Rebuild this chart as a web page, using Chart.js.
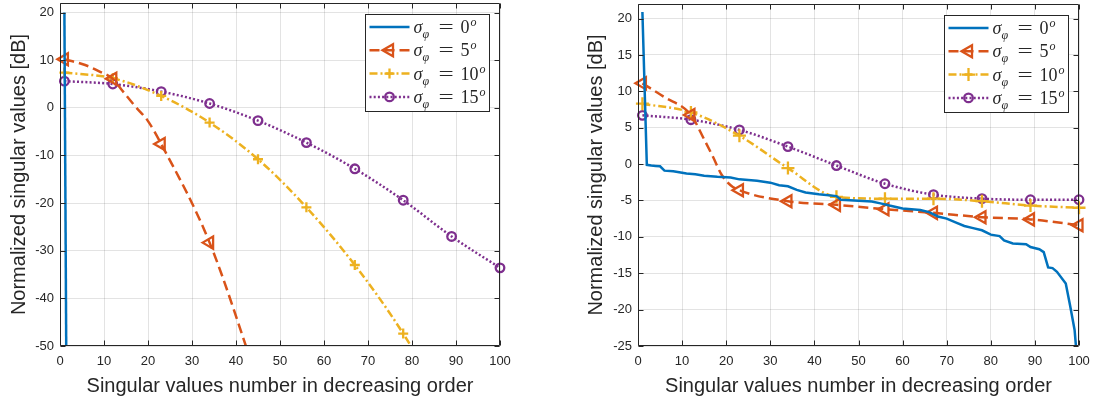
<!DOCTYPE html>
<html>
<head>
<meta charset="utf-8">
<script src="https://cdn.jsdelivr.net/npm/chart.js"></script>
<style>
  html, body { margin: 0; padding: 0; background: #fff; }
  #wrap { position: relative; width: 1097px; height: 403px; }
  .panel { position: absolute; top: 0; }
  #left { left: 0; }
  #right { left: 548px; }
</style>
</head>
<body>
<div id="wrap">
  <div class="panel" id="left"><canvas id="chartLeft" width="548" height="403"></canvas></div>
  <div class="panel" id="right"><canvas id="chartRight" width="549" height="403"></canvas></div>
</div>
<script>
// axis ticks / labels
const xTicks = [0, 10, 20, 30, 40, 50, 60, 70, 80, 90, 100];
const leftYTicks = [-50, -40, -30, -20, -10, 0, 10, 20];
const rightYTicks = [-25, -20, -15, -10, -5, 0, 5, 10, 15, 20];
const markerIdx = [1, 12, 23, 34, 45, 56, 67, 78, 89, 100];
const sigmaLabels = ['0', '5', '10', '15'];
const xTitle = 'Singular values number in decreasing order';
const yTitle = 'Normalized singular values [dB]';

// left panel
const leftBlueIdx = [1, 2];
const leftBlueVal = [20, -150];
const leftRedIdx = [1, 5, 7, 9, 12, 14, 17, 20, 23, 34, 45];
const leftRedVal = [10.2, 9.2, 8.5, 7.6, 6.1, 3.8, 0.4, -2.8, -7.6, -28.3, -57.5];
const leftYellowIdx = [1, 12, 23, 34, 45, 56, 67, 78, 89];
const leftYellowVal = [7.4, 6.2, 2.5, -3.1, -10.8, -20.9, -33.0, -47.4, -65];
const leftPurpleIdx = [1, 12, 23, 34, 45, 56, 67, 78, 89, 100];
const leftPurpleVal = [5.6, 5.0, 3.4, 0.9, -2.7, -7.3, -12.8, -19.4, -27.0, -33.6];

// right panel
const rightBlueIdx = [1, 2, 3, 4, 5, 6, 8, 11, 13, 15, 18, 21, 23, 25, 27, 30, 32, 34, 36, 38,
  41, 45, 46, 50, 53, 55, 57, 60, 62, 64, 66, 68, 70, 72, 74, 76, 78, 80, 82, 83,
  85, 88, 89, 91, 92, 93, 94, 95, 97, 98, 99, 100];
const rightBlueVal = [20.9, -0.1, -0.2, -0.25, -0.3, -0.9, -1.0, -1.3, -1.4, -1.6, -1.75, -1.85, -2.1, -2.2, -2.3, -2.55, -2.9, -3.05, -3.55, -3.9,
  -4.15, -4.4, -4.9, -5.05, -5.15, -5.4, -5.7, -6.1, -6.2, -6.3, -6.6, -7.2, -7.5, -8.0, -8.5, -8.8, -9.1, -9.7, -9.9, -10.5,
  -10.9, -11.0, -11.4, -11.7, -12.1, -14.2, -14.3, -14.8, -16.4, -19.5, -22.8, -30];
const rightRedIdx = [1, 6, 12, 15, 17, 19, 21, 23, 34, 45, 56, 67, 78, 89, 100];
const rightRedVal = [11.1, 9.2, 6.75, 3.4, 1.0, -1.5, -2.9, -3.6, -5.1, -5.6, -6.2, -6.7, -7.3, -7.6, -8.4];
const rightYellowIdx = [1, 12, 23, 34, 45, 56, 67, 78, 89, 100];
const rightYellowVal = [8.3, 7.1, 3.9, -0.55, -4.5, -4.75, -4.75, -5.1, -5.7, -6.0];
const rightPurpleIdx = [1, 12, 23, 34, 45, 56, 67, 78, 89, 100];
const rightPurpleVal = [6.7, 6.1, 4.7, 2.4, -0.2, -2.7, -4.2, -4.75, -4.9, -4.9];

const colors = ['#0072BD', '#D95319', '#EDB120', '#7E2F8E'];
const dashes = [[], [10, 5], [8, 3, 2, 3], [2, 2.2]];
const pointStyles = [false, 'triangle', 'cross', 'circle'];
const textColor = '#262626';
const gridColor = 'rgba(38,38,38,0.13)';
const sans = '"Liberation Sans", Arial, sans-serif';
const serif = '"Liberation Serif", "DejaVu Serif", serif';

function markerRadius(r) {
    return function (ctx) {
        return (ctx.raw && markerIdx.includes(ctx.raw.x)) ? r : 0;
    };
}

function series(idx, vals, k, r) {
    return {
        label: sigmaLabels[k],
        data: idx.map((x, i) => ({x: x, y: vals[i]})),
        borderColor: colors[k],
        backgroundColor: colors[k],
        borderWidth: 2.5,
        borderDash: dashes[k],
        cubicInterpolationMode: k === 0 ? 'default' : 'monotone',
        tension: 0,
        capBezierPoints: false,
        pointStyle: pointStyles[k],
        pointRotation: k === 1 ? -90 : 0,
        pointRadius: k === 0 ? 0 : markerRadius(r),
        pointHoverRadius: 0,
        pointBorderWidth: 2.3,
        pointBorderColor: colors[k],
        pointBackgroundColor: 'rgba(0,0,0,0)',
        clip: {left: 10, top: 0, right: 10, bottom: 0},
        markerR: r
    };
}

// box with inward ticks on all four sides (matlab style)
const framePlugin = {
    id: 'frame',
    afterDatasetsDraw(chart) {
        const {ctx, chartArea: a, scales} = chart;
        const tl = 5;
        const L = Math.round(a.left) + 0.5, R = Math.round(a.right) - 0.5;
        const T = Math.round(a.top) + 0.5, B = Math.round(a.bottom) - 0.5;
        ctx.save();
        ctx.strokeStyle = textColor;
        ctx.lineWidth = 1;
        ctx.setLineDash([]);
        ctx.beginPath();
        ctx.rect(L, T, R - L, B - T);
        scales.x.ticks.forEach(t => {
            const px = Math.round(scales.x.getPixelForValue(t.value)) + 0.5;
            ctx.moveTo(px, B); ctx.lineTo(px, B - tl);
            ctx.moveTo(px, T); ctx.lineTo(px, T + tl);
        });
        scales.y.ticks.forEach(t => {
            const py = Math.round(scales.y.getPixelForValue(t.value)) + 0.5;
            ctx.moveTo(L, py); ctx.lineTo(L + tl, py);
            ctx.moveTo(R, py); ctx.lineTo(R - tl, py);
        });
        ctx.stroke();
        ctx.restore();
    }
};

function drawMarker(ctx, style, x, y, r) {
    ctx.lineWidth = 2.3;
    ctx.beginPath();
    if (style === 'triangle') {
        ctx.moveTo(x - r, y);
        ctx.lineTo(x + r / 2, y - r * 0.866);
        ctx.lineTo(x + r / 2, y + r * 0.866);
        ctx.closePath();
    } else if (style === 'cross') {
        ctx.moveTo(x - r, y); ctx.lineTo(x + r, y);
        ctx.moveTo(x, y - r); ctx.lineTo(x, y + r);
    } else if (style === 'circle') {
        ctx.arc(x, y, r, 0, Math.PI * 2);
    }
    ctx.stroke();
}

function drawSigma(ctx, x, y, num) {
    ctx.fillStyle = textColor;
    ctx.textAlign = 'left';
    ctx.textBaseline = 'alphabetic';
    ctx.font = 'italic 18px ' + serif;
    ctx.fillText('σ', x, y);
    const sw = ctx.measureText('σ').width;
    ctx.font = 'italic 12px ' + serif;
    ctx.fillText('φ', x + sw, y + 5);
    ctx.font = '18px ' + serif;
    ctx.save();
    ctx.translate(x + 25, y);
    ctx.scale(1.5, 1);
    ctx.fillText('=', 0, 0);
    ctx.restore();
    ctx.fillText(num, x + 47, y);
    const nw = ctx.measureText(num).width;
    ctx.font = 'italic 12px ' + serif;
    ctx.fillText('o', x + 47 + nw + 1, y - 7);
}

const legendPlugin = {
    id: 'sigmaLegend',
    afterDraw(chart) {
        const {ctx, chartArea: a} = chart;
        const w = 124, h = 97;
        const bx = Math.round(a.right - 11 - w) + 0.5;
        const by = Math.round(a.top + 11) + 0.5;
        ctx.save();
        ctx.fillStyle = '#fff';
        ctx.fillRect(bx, by, w, h);
        ctx.strokeStyle = textColor;
        ctx.lineWidth = 1;
        ctx.setLineDash([]);
        ctx.strokeRect(bx, by, w, h);
        chart.data.datasets.forEach((ds, k) => {
            const cy = by + 12.5 + k * 23.3;
            const x0 = bx + 4, x1 = bx + 44;
            ctx.strokeStyle = ds.borderColor;
            ctx.lineWidth = 2.5;
            ctx.setLineDash(ds.borderDash);
            ctx.beginPath();
            ctx.moveTo(x0, cy);
            ctx.lineTo(x1, cy);
            ctx.stroke();
            ctx.setLineDash([]);
            if (ds.pointStyle) drawMarker(ctx, ds.pointStyle, (x0 + x1) / 2, cy, ds.markerR);
            drawSigma(ctx, bx + 48, cy + 6, sigmaLabels[k]);
        });
        ctx.restore();
    }
};

// drop the label overflow padding so the plot box sits where it should
function noPad(s) {
    s.paddingTop = 0;
    s.paddingBottom = 0;
    s.paddingLeft = 0;
    s.paddingRight = 0;
}

function buildOptions(yTicks, yMin, yWidth, pad) {
    return {
        responsive: false,
        animation: false,
        events: [],
        layout: {padding: pad, autoPadding: false},
        plugins: {legend: {display: false}, tooltip: {enabled: false}},
        scales: {
            x: {
                type: 'linear',
                min: 0,
                max: 100,
                afterBuildTicks: s => { s.ticks = xTicks.map(v => ({value: v})); },
                afterFit: s => { s.height = 57; noPad(s); },
                grid: {color: gridColor, drawTicks: false},
                border: {display: false},
                ticks: {color: textColor, font: {family: sans, size: 13}, padding: 8, maxRotation: 0, autoSkip: false},
                title: {display: true, text: xTitle, color: textColor, font: {family: sans, size: 20}, padding: {top: 0, bottom: 5}}
            },
            y: {
                type: 'linear',
                min: yMin,
                max: 22,
                afterBuildTicks: s => { s.ticks = yTicks.map(v => ({value: v})); },
                afterFit: s => { s.width = yWidth; noPad(s); },
                grid: {color: gridColor, drawTicks: false},
                border: {display: false},
                ticks: {color: textColor, font: {family: sans, size: 13}, padding: 6, autoSkip: false},
                title: {display: true, text: yTitle, color: textColor, font: {family: sans, size: 20}, padding: {top: 7, bottom: 0}}
            }
        }
    };
}

new Chart(document.getElementById('chartLeft'), {
    type: 'line',
    data: {
        datasets: [
            series(leftBlueIdx, leftBlueVal, 0, 0),
            series(leftRedIdx, leftRedVal, 1, 7),
            series(leftYellowIdx, leftYellowVal, 2, 5),
            series(leftPurpleIdx, leftPurpleVal, 3, 4.3)
        ]
    },
    options: buildOptions(leftYTicks, -50, 60, {left: 0, top: 3, right: 48, bottom: 0}),
    plugins: [framePlugin, legendPlugin]
});

new Chart(document.getElementById('chartRight'), {
    type: 'line',
    data: {
        datasets: [
            series(rightBlueIdx, rightBlueVal, 0, 0),
            series(rightRedIdx, rightRedVal, 1, 7),
            series(rightYellowIdx, rightYellowVal, 2, 6.5),
            series(rightPurpleIdx, rightPurpleVal, 3, 4.3)
        ]
    },
    options: buildOptions(rightYTicks, -25, 61, {left: 29, top: 4, right: 18, bottom: 0}),
    plugins: [framePlugin, legendPlugin]
});
</script>
</body>
</html>
